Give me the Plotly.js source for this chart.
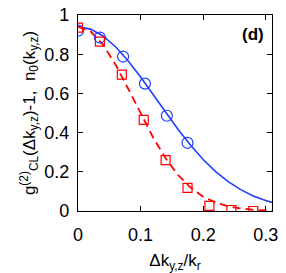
<!DOCTYPE html>
<html><head><meta charset="utf-8">
<script src="https://cdn.plot.ly/plotly-3.0.1.min.js"></script>
<style>html,body{margin:0;padding:0;background:#fff}#c{width:286px;height:273px}</style>
</head><body><div id="c"></div>
<script>
// measured points
const xData = [0, 0.035, 0.072, 0.107, 0.142, 0.175];
const circY = [0.92, 0.885, 0.788, 0.65, 0.486, 0.348];
const xSq = [0, 0.035, 0.070, 0.105, 0.140, 0.175, 0.210, 0.245, 0.280];
const sqY = [0.936, 0.864, 0.696, 0.465, 0.26, 0.118, 0.026, 0.005, 0.0];
// curves
const xCurve = [0, 0.02, 0.04, 0.06, 0.08, 0.10, 0.12, 0.14, 0.16, 0.18, 0.20, 0.22, 0.24, 0.26, 0.28, 0.30, 0.31];
const blueCurve = [0.94, 0.928, 0.893, 0.838, 0.767, 0.684, 0.594, 0.504, 0.416, 0.335, 0.263, 0.201, 0.150, 0.109, 0.077, 0.053, 0.044];
const redCurve = [0.94, 0.917, 0.849, 0.747, 0.625, 0.497, 0.375, 0.269, 0.183, 0.119, 0.073, 0.043, 0.024, 0.013, 0.006, 0.003, 0.002];
const xTicks = [0, 0.1, 0.2, 0.3];
const xTickText = ['0', '0.1', '0.2', '0.3'];
const yTicks = [0, 0.2, 0.4, 0.6, 0.8, 1];
const yTickText = ['0', '0.2', '0.4', '0.6', '0.8', '1'];

const blue = '#1f3fff';
const red = '#ff0000';
const traces = [
  {x: xCurve, y: blueCurve, mode: 'lines', line: {color: blue, width: 1.6}, hoverinfo: 'skip'},
  {x: xCurve, y: redCurve, mode: 'lines', line: {color: red, width: 1.8, dash: '8px,5px'}, hoverinfo: 'skip'},
  {x: xData, y: circY, mode: 'markers', marker: {symbol: 'circle-open', size: 11, color: blue, line: {width: 1.2, color: blue}}},
  {x: xSq, y: sqY, mode: 'markers', marker: {symbol: 'square-open', size: 9, color: red, line: {width: 1.2, color: red}}}
];
const font = {family: 'Liberation Sans, Arial, sans-serif', size: 17, color: '#000'};
const tickFont = {family: 'Liberation Sans, Arial, sans-serif', size: 18, color: '#000'};
const axisCommon = {showgrid: false, zeroline: false, showline: true, linecolor: '#000', linewidth: 1.2, mirror: 'allticks',
  ticks: 'inside', ticklen: 5, tickwidth: 1, tickcolor: '#000', tickfont: tickFont};
const layout = {
  width: 286, height: 273, showlegend: false,
  paper_bgcolor: '#fff', plot_bgcolor: '#fff',
  margin: {l: 78, r: 14, t: 15, b: 62},
  font: font,
  xaxis: Object.assign({}, axisCommon, {range: [0, 0.31], tickvals: xTicks, ticktext: xTickText, ticklabelstandoff: 7,
    title: {text: 'Δk<sub>y,z</sub>/k<sub>r</sub>', font: font, standoff: 10}}),
  yaxis: Object.assign({}, axisCommon, {range: [0, 1], tickvals: yTicks, ticktext: yTickText, ticklabelstandoff: 4,
    title: {text: 'g<sup>(2)</sup><sub>CL</sub>(Δk<sub>y,z</sub>)-1,  n<sub>0</sub>(k<sub>y,z</sub>)', font: font, standoff: 4}}),
  annotations: [{text: '<b>(d)</b>', xref: 'paper', yref: 'paper', x: 0.97, y: 0.96, xanchor: 'right', yanchor: 'top',
    showarrow: false, font: {family: 'Liberation Sans, Arial, sans-serif', size: 17, color: '#000'}}]
};
Plotly.newPlot('c', traces, layout, {displayModeBar: false, staticPlot: true});
</script></body></html>
